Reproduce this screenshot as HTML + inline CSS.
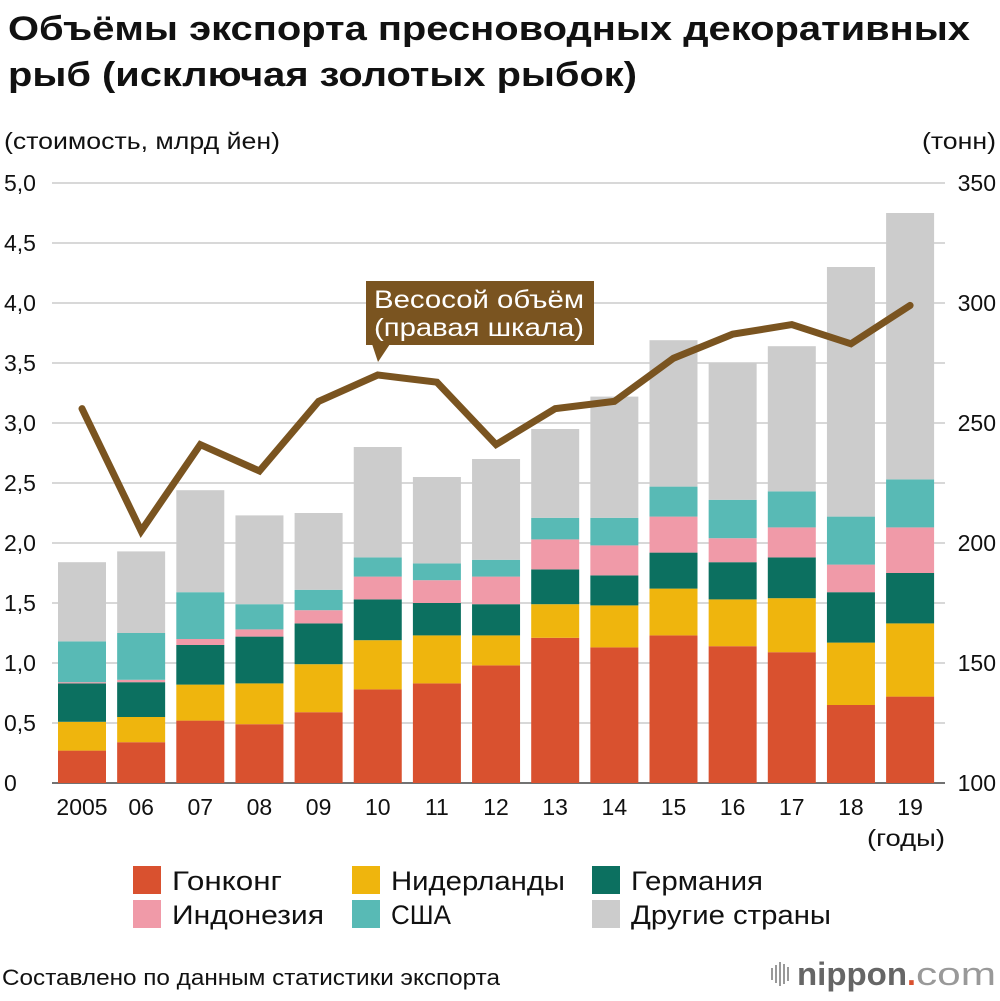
<!DOCTYPE html>
<html><head><meta charset="utf-8">
<style>
body{margin:0;background:#fff;}
svg text{font-family:"Liberation Sans","DejaVu Sans",sans-serif;}
</style></head>
<body>
<svg id="chart" width="1000" height="996" viewBox="0 0 1000 996" xmlns="http://www.w3.org/2000/svg">
<text x="8" y="40" font-size="34" font-weight="bold" fill="#111" textLength="962" lengthAdjust="spacingAndGlyphs">Объёмы экспорта пресноводных декоративных</text>
<text x="8" y="86" font-size="34" font-weight="bold" fill="#111" textLength="629" lengthAdjust="spacingAndGlyphs">рыб (исключая золотых рыбок)</text>
<text x="4" y="149" font-size="23" fill="#111" textLength="276" lengthAdjust="spacingAndGlyphs">(стоимость, млрд йен)</text>
<text x="922" y="149" font-size="23" fill="#111" textLength="74" lengthAdjust="spacingAndGlyphs">(тонн)</text>
<g id="grid"></g>
<g id="bars"></g>
<g id="line"></g>
<g id="axes"></g>
<g>
<rect x="366" y="281" width="228" height="64" fill="#7a5420"/>
<polygon points="372,344 390,344 378,362" fill="#7a5420"/>
<text x="374" y="308" font-size="25" fill="#fff" textLength="210" lengthAdjust="spacingAndGlyphs">Весосой объём</text>
<text x="374" y="336" font-size="25" fill="#fff" textLength="210" lengthAdjust="spacingAndGlyphs">(правая шкала)</text>
</g>
<text x="867" y="846" font-size="23" fill="#111" textLength="78" lengthAdjust="spacingAndGlyphs">(годы)</text>
<g id="legend"></g>
<text x="2" y="985" font-size="22" fill="#111" textLength="498" lengthAdjust="spacingAndGlyphs">Составлено по данным статистики экспорта</text>
<g>
<rect x="771" y="968" width="2" height="12" fill="#999"/>
<rect x="775" y="965" width="2" height="18" fill="#999"/>
<rect x="779" y="962" width="2" height="24" fill="#999"/>
<rect x="783" y="964" width="2" height="20" fill="#999"/>
<rect x="787" y="967" width="2" height="14" fill="#999"/>
<text x="797" y="985" font-size="32" fill="#666" font-weight="bold" textLength="110" lengthAdjust="spacingAndGlyphs">nippon</text>
<text x="907" y="985" font-size="32" fill="#d9512f" font-weight="bold">.</text>
<text x="916" y="985" font-size="32" fill="#999" textLength="80" lengthAdjust="spacingAndGlyphs">com</text>
</g>
</svg>
<script>
const years=["2005","06","07","08","09","10","11","12","13","14","15","16","17","18","19"];
const hongkong=[0.27,0.34,0.52,0.49,0.59,0.78,0.83,0.98,1.21,1.13,1.23,1.14,1.09,0.65,0.72];
const netherlands=[0.24,0.21,0.30,0.34,0.40,0.41,0.40,0.25,0.28,0.35,0.39,0.39,0.45,0.52,0.61];
const germany=[0.32,0.29,0.33,0.39,0.34,0.34,0.27,0.26,0.29,0.25,0.30,0.31,0.34,0.42,0.42];
const indonesia=[0.01,0.02,0.05,0.06,0.11,0.19,0.19,0.23,0.25,0.25,0.30,0.20,0.25,0.23,0.38];
const usa=[0.34,0.39,0.39,0.21,0.17,0.16,0.14,0.14,0.18,0.23,0.25,0.32,0.30,0.40,0.40];
const others=[0.66,0.68,0.85,0.74,0.64,0.92,0.72,0.84,0.74,1.01,1.22,1.14,1.21,2.08,2.22];
const tonnage=[256,205,241,230,259,270,267,241,256,259,277,287,291,283,299];
const leftTicks=["0","0,5","1,0","1,5","2,0","2,5","3,0","3,5","4,0","4,5","5,0"];
const rightTicks=["100","150","200","250","300","350"];
const NS="http://www.w3.org/2000/svg";
const y0=783,yTop=183;
const yL=v=>y0-(v/5)*(y0-yTop);
const yR=v=>y0-((v-100)/250)*(y0-yTop);
const xC=i=>82+i*59.15;
const bw=48;
function mk(tag,attrs,parent){const e=document.createElementNS(NS,tag);for(const k in attrs)e.setAttribute(k,attrs[k]);parent.appendChild(e);return e;}
const grid=document.getElementById('grid'),bars=document.getElementById('bars'),lineG=document.getElementById('line'),axes=document.getElementById('axes'),legend=document.getElementById('legend');
leftTicks.forEach((t,i)=>{
 const y=yL(i*0.5);
 const l=mk('line',{x1:52,x2:945,y1:y,y2:y,stroke:i==0?'#444':'#ccc','stroke-width':i==0?1.5:1.5},grid);
 
 
 const tx=mk('text',{x:4,y:y+8,'font-size':23,fill:'#111'},axes);tx.textContent=t;
 
 
});
rightTicks.forEach((t,i)=>{
 const y=yR(100+i*50);
 const tx=mk('text',{x:996,y:y+8,'font-size':23,fill:'#111','text-anchor':'end'},axes);tx.textContent=t;
 
 
});
const series=[["hongkong",hongkong,"#d9512f"],["netherlands",netherlands,"#efb50d"],["germany",germany,"#0c7060"],["indonesia",indonesia,"#f09aa8"],["usa",usa,"#58bab5"],["others",others,"#cccccc"]];
years.forEach((yr,i)=>{
 let acc=0;
 series.forEach(s=>{
  const v=s[1][i];
  const r=mk('rect',{x:xC(i)-bw/2,y:yL(acc+v),width:bw,height:yL(acc)-yL(acc+v),fill:s[2]},bars);
  
  
  acc+=v;
 });
 const tx=mk('text',{x:xC(i),y:815,'font-size':23,fill:'#111','text-anchor':'middle'},axes);tx.textContent=yr;
 
 
});
const pl=mk('polyline',{points:tonnage.map((v,i)=>xC(i)+','+yR(v)).join(' '),fill:'none',stroke:'#7a5420','stroke-width':7,'stroke-linejoin':'miter','stroke-linecap':'round'},lineG);


const leg=[["Гонконг","#d9512f",133,880,110],["Нидерланды","#efb50d",352,880,174],["Германия","#0c7060",592,880,132],["Индонезия","#f09aa8",133,914,152],["США","#58bab5",352,914,60],["Другие страны","#cccccc",592,914,200]];
leg.forEach(l=>{
 const g=mk('g',{},legend);
 
 
 mk('rect',{x:l[2],y:l[3]-14,width:28,height:28,fill:l[1]},g);
 const t=mk('text',{x:l[2]+39,y:l[3]+10,'font-size':27,fill:'#111',textLength:l[4],lengthAdjust:'spacingAndGlyphs'},g);t.textContent=l[0];
});
</script>
</body></html>
